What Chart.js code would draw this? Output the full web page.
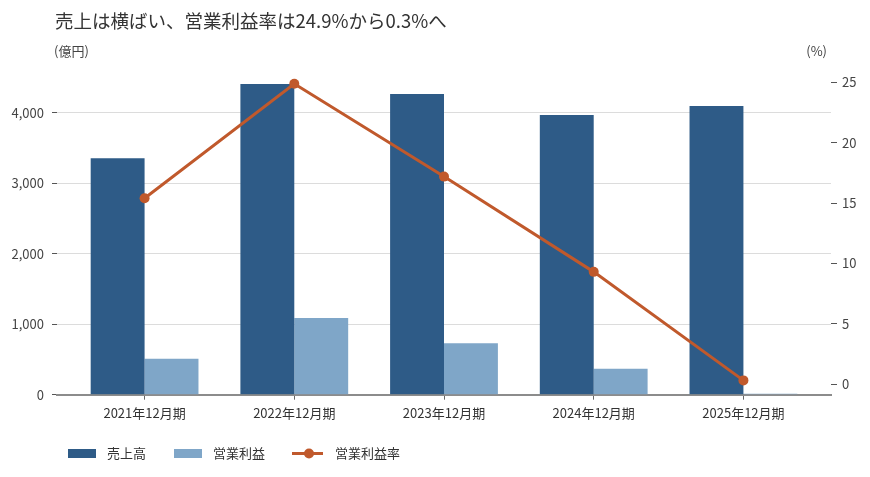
<!DOCTYPE html>
<html lang="ja">

<head>
    <meta charset="UTF-8">
    <title>売上と営業利益率</title>
    <style>
        body { margin: 0; background: #fff; }
        #wrap { width: 870px; height: 477px; }
    </style>
</head>

<body>
    <div id="wrap">
        <canvas id="myChart"></canvas>
    </div>

    <script src="https://cdn.jsdelivr.net/npm/chart.js"></script>

    <script>
        const categories = ['2021年12月期', '2022年12月期', '2023年12月期', '2024年12月期', '2025年12月期'];
        const sales = [3353, 4407, 4265, 3967, 4095];          // 売上高 (億円)
        const operatingProfit = [511, 1088, 729, 369, 12];     // 営業利益 (億円)
        const operatingMargin = [15.4, 24.9, 17.2, 9.3, 0.3];  // 営業利益率 (%)
        const salesTicks = [0, 1000, 2000, 3000, 4000];
        const marginTicks = [0, 5, 10, 15, 20, 25];

        const titleText = '売上は横ばい、営業利益率は24.9%から0.3%へ';
        const fontFamily = '"Noto Sans CJK JP", "Noto Sans", sans-serif';

        Chart.defaults.font.family = fontFamily;
        Chart.defaults.font.size = 13;
        Chart.defaults.color = '#333';

        // title, unit labels and legend
        const textPlugin = {
            id: 'chartText',
            afterDraw(chart) {
                const ctx = chart.ctx;
                ctx.save();
                ctx.textBaseline = 'middle';
                ctx.fillStyle = '#333';
                ctx.font = '18.5px ' + fontFamily;
                ctx.fillText(titleText, 55, 21);

                ctx.font = '13px ' + fontFamily;
                ctx.fillStyle = '#444';
                ctx.fillText('(億円)', 54, 51);
                ctx.textAlign = 'right';
                ctx.fillText('(%)', 827, 51);

                ctx.textAlign = 'left';
                const y = 453.5;
                let x = 68;
                chart.data.datasets.forEach(ds => {
                    if (ds.type === 'line') {
                        ctx.strokeStyle = ds.borderColor;
                        ctx.lineWidth = 3;
                        ctx.beginPath();
                        ctx.moveTo(x - 1, y);
                        ctx.lineTo(x + 30, y);
                        ctx.stroke();
                        ctx.fillStyle = ds.borderColor;
                        ctx.beginPath();
                        ctx.arc(x + 16, y, 5, 0, Math.PI * 2);
                        ctx.fill();
                        x += 31;
                    } else {
                        ctx.fillStyle = ds.backgroundColor;
                        ctx.fillRect(x, y - 4.5, 28, 9);
                        x += 28;
                    }
                    x += 11;
                    ctx.fillStyle = '#333';
                    ctx.fillText(ds.label, x, y);
                    x += ctx.measureText(ds.label).width + 28;
                });
                ctx.restore();
            }
        };

        const ctx = document.getElementById('myChart');
        new Chart(ctx, {
            type: 'bar',
            data: {
                datasets: [{
                    type: 'bar',
                    label: '売上高',
                    data: sales.map((v, i) => ({ x: i, y: v })),
                    backgroundColor: '#2e5b87',
                    categoryPercentage: 0.72,
                    barPercentage: 1.0,
                    yAxisID: 'y',
                    order: 1
                },
                {
                    type: 'bar',
                    label: '営業利益',
                    data: operatingProfit.map((v, i) => ({ x: i, y: v })),
                    backgroundColor: '#7fa6c8',
                    categoryPercentage: 0.72,
                    barPercentage: 1.0,
                    yAxisID: 'y',
                    order: 1
                },
                {
                    type: 'line',
                    label: '営業利益率',
                    data: operatingMargin.map((v, i) => ({ x: i, y: v })),
                    borderColor: '#c0592c',
                    backgroundColor: '#c0592c',
                    borderWidth: 3,
                    pointRadius: 5,
                    pointBorderWidth: 0,
                    pointBackgroundColor: '#c0592c',
                    tension: 0,
                    yAxisID: 'y1',
                    order: 0 // line on top of the bars
                }]
            },
            options: {
                responsive: true,
                maintainAspectRatio: false,
                animation: false,
                events: [],
                layout: {
                    padding: { top: 70, left: 10, right: 10, bottom: 52.3 }
                },
                plugins: {
                    legend: { display: false },
                    tooltip: { enabled: false }
                },
                scales: {
                    x: {
                        type: 'linear',
                        min: -0.585,
                        max: 4.585,
                        offset: false,
                        afterBuildTicks: s => { s.ticks = categories.map((c, i) => ({ value: i })); },
                        afterFit: s => { s.height = 30; },
                        grid: {
                            offset: false,
                            drawOnChartArea: false,
                            tickColor: '#666',
                            tickLength: 5
                        },
                        border: { display: true, color: '#8c8c8c', width: 2 },
                        ticks: {
                            padding: 6,
                            color: '#333',
                            maxRotation: 0,
                            autoSkip: false,
                            callback: v => categories[v]
                        }
                    },
                    y: {
                        type: 'linear',
                        position: 'left',
                        min: 0,
                        max: 4606,
                        afterBuildTicks: s => { s.ticks = salesTicks.map(v => ({ value: v })); },
                        afterFit: s => { s.width = 47; },
                        grid: {
                            color: c => (c.tick && c.tick.value === 0) ? 'rgba(0,0,0,0)' : '#dcdcdc',
                            tickColor: '#555',
                            tickLength: 5
                        },
                        border: { display: false },
                        ticks: {
                            padding: 8,
                            color: '#444',
                            callback: v => v.toLocaleString('en-US')
                        }
                    },
                    y1: {
                        type: 'linear',
                        position: 'right',
                        min: -0.887,
                        max: 26.04,
                        afterBuildTicks: s => { s.ticks = marginTicks.map(v => ({ value: v })); },
                        afterFit: s => { s.width = 29; },
                        grid: {
                            drawOnChartArea: false, // only want the grid lines for one axis to show up
                            tickColor: '#555',
                            tickLength: 6
                        },
                        border: { display: false },
                        ticks: {
                            padding: 5,
                            color: '#444'
                        }
                    }
                }
            },
            plugins: [textPlugin]
        });
    </script>

</body>

</html>
